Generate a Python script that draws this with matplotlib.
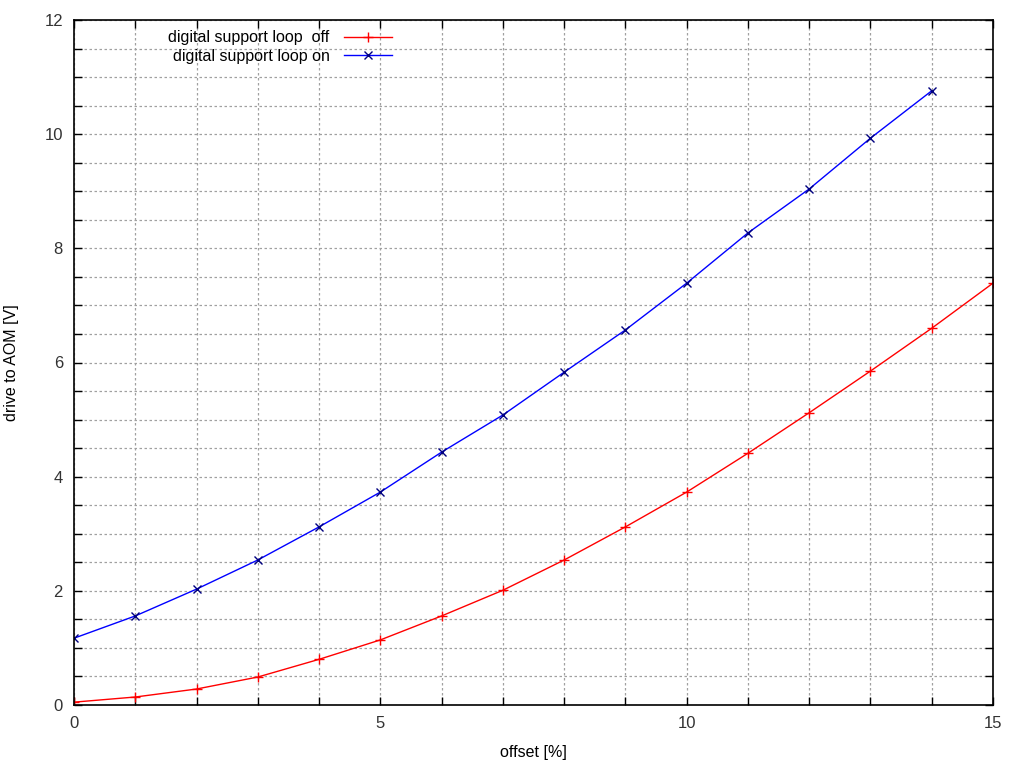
import matplotlib
matplotlib.use("Agg")
import matplotlib.pyplot as plt
from matplotlib.ticker import MultipleLocator

offset = list(range(16))
loop_off = [0.05, 0.14, 0.28, 0.49, 0.80, 1.14, 1.56, 2.01, 2.54, 3.12, 3.73, 4.41, 5.12, 5.85, 6.60, 7.39]
offset_on = list(range(15))
loop_on = [1.17, 1.56, 2.03, 2.54, 3.12, 3.73, 4.43, 5.08, 5.83, 6.57, 7.39, 8.27, 9.04, 9.93, 10.76]

plt.rcParams['font.family'] = ['Liberation Sans', 'DejaVu Sans']

fig = plt.figure(figsize=(10.24, 7.68), dpi=100)
ax = fig.add_axes([74/1024, 63/768, 919/1024, 685/768])

ax.plot(offset, loop_off, color='#ff0000', lw=1, marker='+', ms=7, mew=1,
        label='digital support loop  off')
ax.plot(offset_on, loop_on, color='#0000ff', lw=1, marker='x', ms=6, mew=1,
        mec='#000080', label='digital support loop on')

ax.set_xlim(0, 15)
ax.set_ylim(0, 12)
ax.xaxis.set_major_locator(MultipleLocator(5))
ax.xaxis.set_minor_locator(MultipleLocator(1))
ax.yaxis.set_major_locator(MultipleLocator(2))
ax.yaxis.set_minor_locator(MultipleLocator(0.5))
ax.grid(which='both', color='#a0a0a0', linestyle=(0, (2, 2)), lw=0.9)
ax.set_axisbelow(True)
ax.tick_params(which='both', direction='in', top=True, right=True, length=6, width=1,
               labelsize=12, pad=8, colors='black')
for tl in ax.get_xticklabels() + ax.get_yticklabels():
    tl.set_color('#333333')
for s in ax.spines.values():
    s.set_linewidth(1.2)

ax.set_xlabel('offset [%]', fontsize=11.5, labelpad=10)
ax.set_ylabel('drive to AOM [V]', fontsize=11.5, labelpad=18)

leg = ax.legend(loc='upper right', bbox_to_anchor=(0.353, 0.994), frameon=False,
                markerfirst=False, fontsize=11.5, handlelength=3.0, handletextpad=0.9,
                labelspacing=0.2, borderaxespad=0.0, borderpad=0.4)
for t in leg.get_texts():
    t.set_ha('right')

fig.savefig('out.png', dpi=100)
